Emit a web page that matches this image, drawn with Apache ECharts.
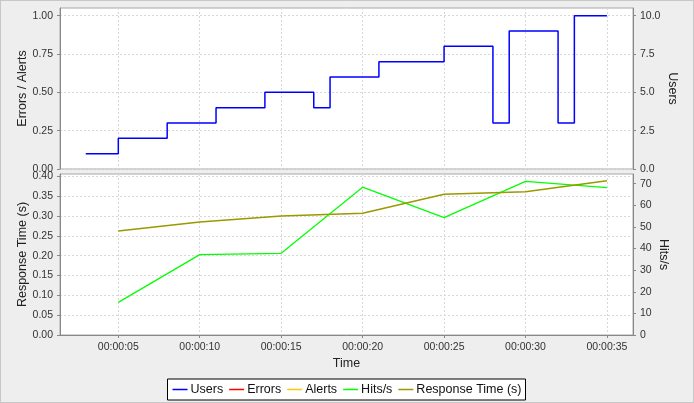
<!DOCTYPE html>
<html><head><meta charset="utf-8">
<script src="https://cdn.jsdelivr.net/npm/echarts@6/dist/echarts.min.js"></script>
<style>
html,body{margin:0;padding:0;background:#eeeeee;}
#c{width:694px;height:403px;box-sizing:border-box;border:1px solid #c8c8c8;background:#eeeeee;}
</style></head>
<body><div id="c"></div>
<script>
// time in seconds
const xTicks = [5, 10, 15, 20, 25, 30, 35];
const usersTime = [3, 5, 8, 11, 14, 17, 18, 21, 25, 28, 29, 32, 33, 35];
const usersVals = [1, 2, 3, 4, 5, 4, 6, 7, 8, 3, 9, 3, 10, 10];
const errorsData = [];
const alertsData = [];
const sampleTime = [5, 10, 15, 20, 25, 30, 35];
const hitsVals = [15.1, 37.2, 37.8, 68.4, 54.3, 71.1, 68.2];
const respVals = [0.262, 0.285, 0.300, 0.307, 0.355, 0.361, 0.389];
const topLeftTicks = [0, 0.25, 0.5, 0.75, 1.0];
const topRightTicks = [0, 2.5, 5, 7.5, 10];
const botLeftTicks = [0, 0.05, 0.1, 0.15, 0.2, 0.25, 0.3, 0.35, 0.4];
const botRightTicks = [0, 10, 20, 30, 40, 50, 60, 70];

const pair = (xs, ys) => xs.map((x, i) => [x, ys[i]]);
const FONT = 'Liberation Sans';
const fmtTime = v => { const s = Math.round(v); return '00:00:' + (s < 10 ? '0' + s : s); };
const split = {show: true, lineStyle: {color: '#d8d8d8', type: [2, 2], width: 1}};
const axLine = {show: true, lineStyle: {color: '#888888'}};
const tick = (vals) => ({show: true, length: 3, lineStyle: {color: '#888888'}, customValues: vals});
const lbl = (vals, d) => ({customValues: vals, color: '#333', fontFamily: FONT, fontSize: 10.5, margin: 7,
  formatter: v => d === 0 ? String(Math.round(v)) : Number(v).toFixed(d)});
const nameStyle = {color: '#222', fontFamily: FONT, fontSize: 12.5};

const chart = echarts.init(document.getElementById('c'), null, {renderer: 'canvas'});
chart.setOption({
  animation: false,
  backgroundColor: '#eeeeee',
  grid: [
    {left: 59, right: 60, top: 7, height: 161, show: true, backgroundColor: '#fff', borderColor: '#a8a8a8', borderWidth: 1},
    {left: 59, right: 60, top: 173, height: 161, show: true, backgroundColor: '#fff', borderColor: '#a8a8a8', borderWidth: 1}
  ],
  xAxis: [
    {type: 'value', gridIndex: 0, min: 1.42, max: 36.6, axisLine: {show: false},
     axisTick: {show: false, customValues: xTicks}, axisLabel: {show: false, customValues: xTicks}, splitLine: split},
    {type: 'value', gridIndex: 1, min: 1.42, max: 36.6, axisLine: axLine,
     axisTick: tick(xTicks), axisLabel: Object.assign(lbl(xTicks, 0), {formatter: fmtTime, margin: 7}),
     splitLine: split, name: 'Time', nameLocation: 'middle', nameGap: 22, nameMoveOverlap: false, nameTextStyle: nameStyle}
  ],
  yAxis: [
    {type: 'value', gridIndex: 0, position: 'left', min: 0, max: 1.05, interval: 0.25,
     axisLine: axLine, axisTick: tick(topLeftTicks), axisLabel: lbl(topLeftTicks, 2), splitLine: split,
     name: 'Errors / Alerts', nameLocation: 'middle', nameGap: 31, nameMoveOverlap: false, nameTextStyle: nameStyle},
    {type: 'value', gridIndex: 0, position: 'right', min: 0, max: 10.5, interval: 2.5,
     axisLine: axLine, axisTick: tick(topRightTicks), axisLabel: lbl(topRightTicks, 1), splitLine: {show: false},
     name: 'Users', nameLocation: 'middle', nameGap: 32.5, nameRotate: -90, nameMoveOverlap: false, nameTextStyle: nameStyle},
    {type: 'value', gridIndex: 1, position: 'left', min: 0, max: 0.406, interval: 0.05,
     axisLine: axLine, axisTick: tick(botLeftTicks), axisLabel: lbl(botLeftTicks, 2), splitLine: split,
     name: 'Response Time (s)', nameLocation: 'middle', nameGap: 31, nameMoveOverlap: false, nameTextStyle: nameStyle},
    {type: 'value', gridIndex: 1, position: 'right', min: 0, max: 74.5, interval: 10,
     axisLine: axLine, axisTick: tick(botRightTicks), axisLabel: lbl(botRightTicks, 0), splitLine: {show: false},
     name: 'Hits/s', nameLocation: 'middle', nameGap: 24, nameRotate: -90, nameMoveOverlap: false, nameTextStyle: nameStyle}
  ],
  legend: {
    bottom: 2, left: 'center', backgroundColor: '#fff', borderColor: '#000', borderWidth: 1,
    borderRadius: 0, padding: [4, 4, 4, 5], itemGap: 6, itemWidth: 15, itemHeight: 1.5, icon: 'rect',
    textStyle: {color: '#111', fontFamily: FONT, fontSize: 12.5, padding: [0, 0, 0, -2]},
    data: ['Users', 'Errors', 'Alerts', 'Hits/s', 'Response Time (s)']
  },
  series: [
    {name: 'Users', type: 'line', xAxisIndex: 0, yAxisIndex: 1, step: 'end', symbol: 'none',
     data: pair(usersTime, usersVals), color: '#0000ff', lineStyle: {width: 1.5, color: '#0000ff'}},
    {name: 'Errors', type: 'line', xAxisIndex: 0, yAxisIndex: 0, symbol: 'none',
     data: errorsData, color: '#ff0000', lineStyle: {width: 1.5, color: '#ff0000'}},
    {name: 'Alerts', type: 'line', xAxisIndex: 0, yAxisIndex: 0, symbol: 'none',
     data: alertsData, color: '#ffc800', lineStyle: {width: 1.5, color: '#ffc800'}},
    {name: 'Hits/s', type: 'line', xAxisIndex: 1, yAxisIndex: 3, symbol: 'none',
     data: pair(sampleTime, hitsVals), color: '#00ff00', lineStyle: {width: 1.2, color: '#00ff00'}},
    {name: 'Response Time (s)', type: 'line', xAxisIndex: 1, yAxisIndex: 2, symbol: 'none',
     data: pair(sampleTime, respVals), color: '#999900', lineStyle: {width: 1.5, color: '#999900'}}
  ]
});
</script></body></html>
